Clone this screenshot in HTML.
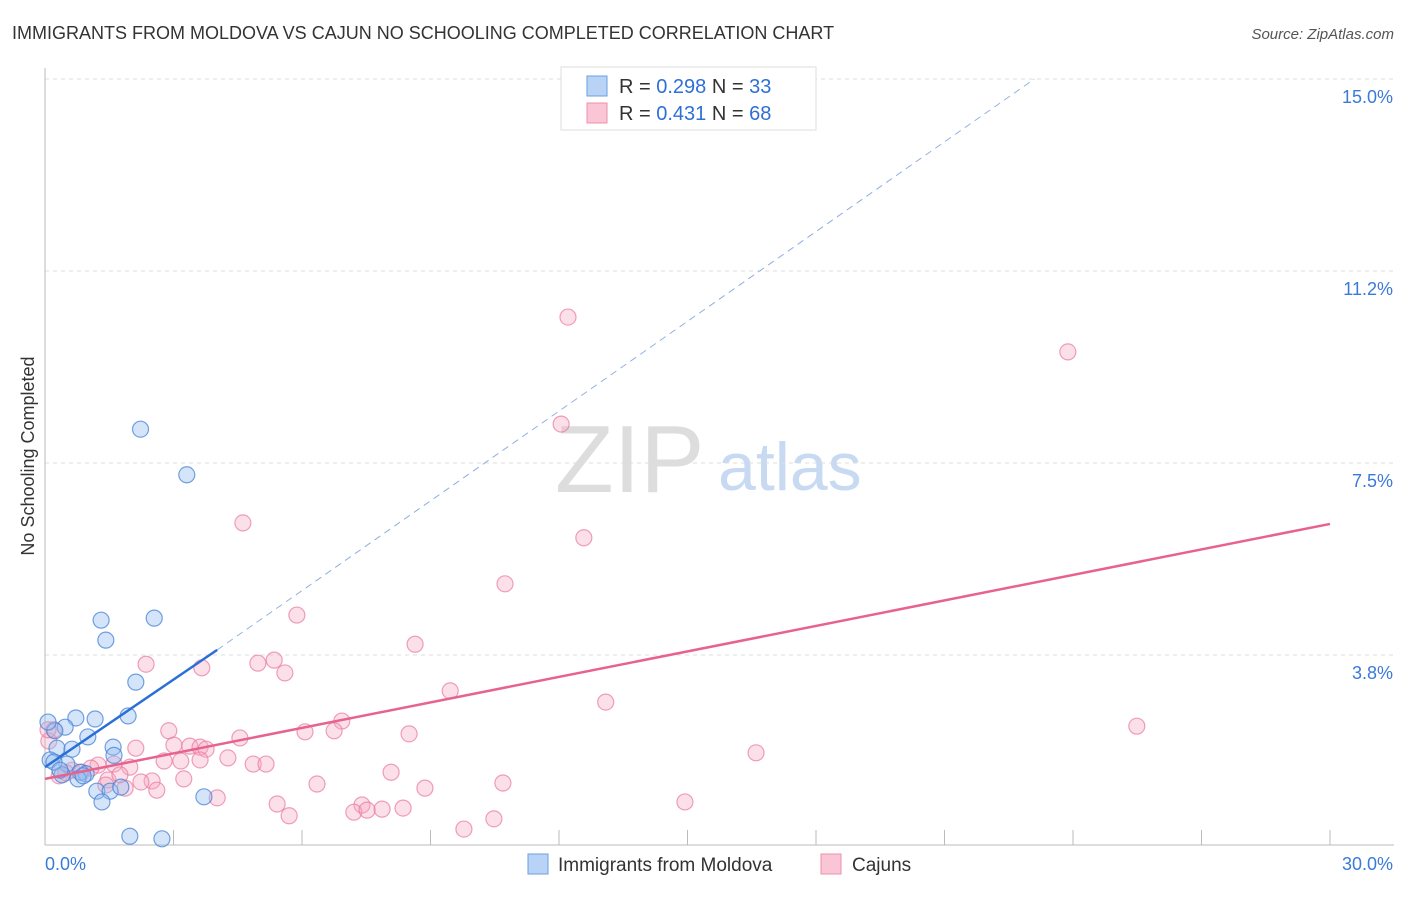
<!DOCTYPE html>
<html><head><meta charset="utf-8"><style>
body{margin:0;background:#fff;font-family:"Liberation Sans",sans-serif;}
svg text{font-family:"Liberation Sans",sans-serif;}
</style></head><body>
<svg id="chart" width="1406" height="892">
<text x="12" y="39" font-size="18" fill="#333">IMMIGRANTS FROM MOLDOVA VS CAJUN NO SCHOOLING COMPLETED CORRELATION CHART</text>
<text x="1394" y="39" font-size="15" fill="#555" font-style="italic" text-anchor="end">Source: ZipAtlas.com</text>
<text x="0" y="0" transform="translate(34,456) rotate(-90)" font-size="18" fill="#333" text-anchor="middle">No Schooling Completed</text>
<text x="555" y="492" font-size="96" fill="#ddd" font-family="Liberation Serif">ZIP</text>
<text x="718" y="490" font-size="68" fill="#c8daf2">atlas</text>
<g id="grid"></g><g id="axes"></g><g id="pts"></g><g id="lines"></g>
<g>
<rect x="561" y="67" width="255" height="63" fill="#fff" stroke="#ddd"/>
<rect x="587" y="76" width="20" height="20" fill="#b8d3f5" stroke="#6a9fe0"/>
<rect x="587" y="103" width="20" height="20" fill="#fac6d6" stroke="#ec8fae"/>
<text x="619" y="93" font-size="20" fill="#333">R = <tspan fill="#2f6fd6">0.298</tspan>   N = <tspan fill="#2f6fd6">33</tspan></text>
<text x="619" y="120" font-size="20" fill="#333">R =  <tspan fill="#2f6fd6">0.431</tspan>   N = <tspan fill="#2f6fd6">68</tspan></text>
</g>
<g>
<rect x="528" y="854" width="20" height="20" fill="#b8d3f5" stroke="#6a9fe0"/>
<text x="558" y="871" font-size="19" fill="#333">Immigrants from Moldova</text>
<rect x="821" y="854" width="20" height="20" fill="#fac6d6" stroke="#ec8fae"/>
<text x="852" y="871" font-size="19" fill="#333">Cajuns</text>
</g>
</svg>
<script>
const xTickLabels=["0.0%","30.0%"];
const yTicks=[3.75,7.5,11.25,15];
const yTickLabels=["3.8%","7.5%","11.2%","15.0%"];
const moldovaX=[2.23,3.31,1.31,2.55,1.42,2.12,1.94,1.17,0.72,0.47,1.00,0.23,0.07,1.59,0.28,0.63,1.61,0.12,0.51,0.82,0.96,0.40,0.77,1.21,1.52,1.77,1.33,3.71,1.98,2.73,0.21,0.35,0.89];
const moldovaY=[8.16,7.27,4.43,4.47,4.04,3.22,2.56,2.50,2.52,2.34,2.15,2.27,2.44,1.95,1.93,1.91,1.79,1.70,1.62,1.46,1.43,1.41,1.33,1.09,1.09,1.17,0.88,0.98,0.21,0.16,1.66,1.50,1.39];
const cajunX=[12.21,23.88,12.05,4.62,12.58,10.74,5.88,8.64,2.36,4.97,5.35,3.66,5.60,9.46,13.09,25.49,6.93,2.89,6.07,6.75,4.55,8.50,3.01,3.38,3.62,3.76,2.12,16.60,4.27,2.78,3.17,4.86,5.16,0.09,0.21,1.61,1.98,1.24,1.07,0.63,0.33,1.47,2.50,2.24,3.24,8.08,6.35,10.69,8.87,1.87,1.42,2.61,4.02,5.42,7.40,8.36,7.87,7.21,7.52,5.70,14.94,10.48,9.78,0.07,0.49,0.86,1.75,3.62];
const cajunY=[10.35,9.67,8.26,6.33,6.04,5.14,4.53,3.96,3.57,3.59,3.65,3.50,3.40,3.05,2.83,2.36,2.46,2.27,2.25,2.27,2.13,2.21,1.99,1.97,1.95,1.91,1.93,1.84,1.74,1.68,1.68,1.62,1.62,2.07,2.29,1.62,1.56,1.60,1.54,1.50,1.39,1.31,1.29,1.27,1.33,1.46,1.23,1.25,1.15,1.15,1.21,1.11,0.96,0.84,0.82,0.76,0.74,0.68,0.72,0.61,0.88,0.55,0.35,2.29,1.45,1.46,1.41,1.70];
const moldovaTrend=[[0,1.56],[4.02,3.85]];
const moldovaExt=[[4.02,3.85],[23.1,15]];
const cajunTrend=[[0,1.33],[30,6.31]];
const X=v=>45+v/30*1285, Y=v=>847-v/15*768;
const NS="http://www.w3.org/2000/svg";
function mk(t,a,p){const e=document.createElementNS(NS,t);for(const k in a)e.setAttribute(k,a[k]);p.appendChild(e);return e;}
const grid=document.getElementById('grid'),axes=document.getElementById('axes'),pts=document.getElementById('pts'),lines=document.getElementById('lines');
yTicks.forEach((t,i)=>{
 const g=mk('line',{x1:45,x2:1394,y1:Y(t),y2:Y(t),stroke:'#ddd','stroke-dasharray':'4,4'},grid);
 
 
 const l=mk('text',{x:1393,y:Y(t)+24,'font-size':18,fill:'#3a7ad8','text-anchor':'end'},axes);
 l.textContent=yTickLabels[i];
 
 
});
mk('line',{x1:45,x2:45,y1:68,y2:845,stroke:'#bbb'},axes);
mk('line',{x1:45,x2:1394,y1:845,y2:845,stroke:'#bbb'},axes);
for(let i=0;i<=10;i++){const t=mk('line',{x1:X(i*3),x2:X(i*3),y1:830,y2:845,stroke:'#bbb'},axes);}
[[0,45,'start'],[1,1393,'end']].forEach(([i,x,a])=>{const l=mk('text',{x:x,y:870,'font-size':18,fill:'#3a7ad8','text-anchor':a},axes);l.textContent=xTickLabels[i];});
cajunX.forEach((x,i)=>{const c=mk('circle',{cx:X(x),cy:Y(cajunY[i]),r:8,fill:'rgba(246,166,192,0.35)',stroke:'rgba(232,120,158,0.7)','stroke-width':1.2},pts);

});
moldovaX.forEach((x,i)=>{const c=mk('circle',{cx:X(x),cy:Y(moldovaY[i]),r:8,fill:'rgba(150,190,240,0.4)',stroke:'rgba(70,130,215,0.75)','stroke-width':1.2},pts);

});
const l1=mk('line',{x1:X(moldovaExt[0][0]),y1:Y(moldovaExt[0][1]),x2:X(moldovaExt[1][0]),y2:Y(moldovaExt[1][1]),stroke:'#8fb0e0','stroke-width':1,'stroke-dasharray':'7,5'},lines);


const l2=mk('line',{x1:X(moldovaTrend[0][0]),y1:Y(moldovaTrend[0][1]),x2:X(moldovaTrend[1][0]),y2:Y(moldovaTrend[1][1]),stroke:'#2a6fd6','stroke-width':2.5},lines);


const l3=mk('line',{x1:X(cajunTrend[0][0]),y1:Y(cajunTrend[0][1]),x2:X(cajunTrend[1][0]),y2:Y(cajunTrend[1][1]),stroke:'#e8628f','stroke-width':2.5},lines);


</script>
</body></html>
